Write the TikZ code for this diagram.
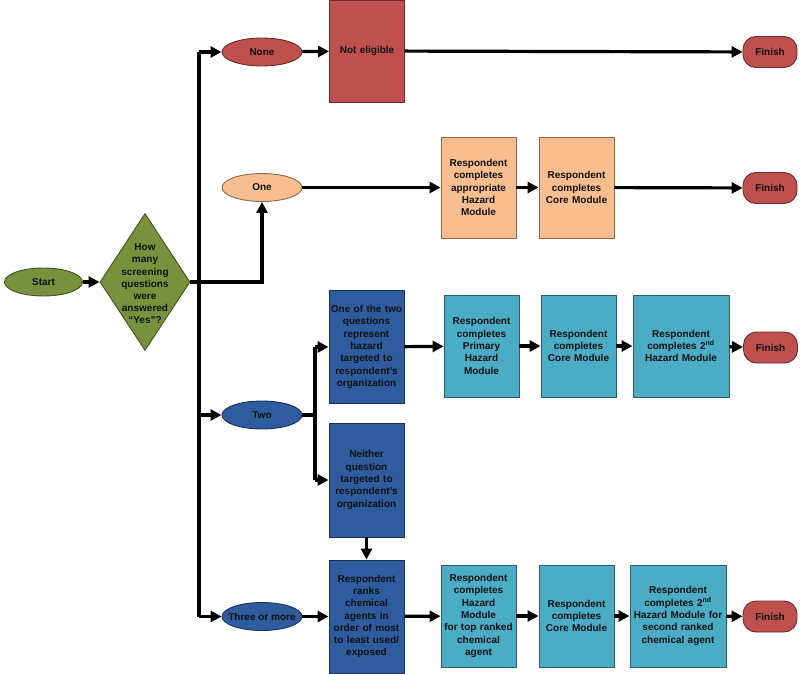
\documentclass[tikz,border=0pt]{standalone}
\usepackage{fontspec}
\setmainfont{Liberation Sans}
\usetikzlibrary{arrows.meta,shapes.geometric}
\definecolor{cgreen}{HTML}{76923C}
\definecolor{cred}{HTML}{C0504D}
\definecolor{corange}{HTML}{F9BE8F}
\definecolor{cdblue}{HTML}{2E5C9E}
\definecolor{clblue}{HTML}{4BACC6}
\definecolor{ctext}{HTML}{111111}
\begin{document}
\begin{tikzpicture}[x=1pt,y=-1pt,
  base/.style={draw=#1!55!black, fill=#1, line width=0.9pt, inner sep=0pt, font=\fontsize{10}{12.3}\selectfont\bfseries, text=ctext, align=center},
  oval/.style={base=#1, ellipse, minimum width=80pt, minimum height=28pt},
  box/.style={base=#1, rectangle, minimum width=75pt, minimum height=102pt, text width=75pt},
  finish/.style={base=cred, rectangle, rounded corners=13pt, minimum width=54pt, minimum height=31pt},
  arr/.style={line width=3.2pt, -{Triangle[length=11pt,width=11pt]}},
  ln/.style={line width=3.2pt}]
\useasboundingbox (0,0) rectangle (800,674);

% start and decision
\node[oval=cgreen, minimum width=78pt] (start) at (43.5,282) {Start};
\node[base=cgreen, diamond, minimum width=90pt, minimum height=137pt] (dia) at (145,282) {};
\node[font=\fontsize{10}{12.2}\selectfont\bfseries, text=ctext, align=center] (diatext) at (145,284) {How\\many\\screening\\questions\\were\\answered\\“Yes”?};

% ovals
\node[oval=cred] (none) at (262,52) {None};
\node[oval=corange] (one) at (262,187.5) {One};
\node[oval=cdblue] (two) at (262,415) {Two};
\node[oval=cdblue] (three) at (262,616.5) {\makebox[0pt]{Three or more}};

% row 1
\node[box=cred, minimum height=102pt] (ne) at (367,51) {Not eligible};
\node[finish] (f1) at (770,52) {Finish};

% row 2
\node[box=corange, minimum height=101pt] (o1) at (478.5,187.5) {Respondent\\completes\\appropriate\\Hazard\\Module};
\node[box=corange, minimum height=101pt] (o2) at (576.5,187.5) {Respondent\\completes\\Core Module};
\node[finish] (f2) at (770,188) {Finish};

% row 3
\node[box=cdblue, minimum height=113pt] (a) at (366.5,347) {One of the two\\questions\\represent\\hazard\\targeted to\\respondent’s\\organization};
\node[box=clblue] (l1) at (481.5,346) {Respondent\\completes\\Primary\\Hazard\\Module};
\node[box=clblue] (l2) at (578.5,346) {Respondent\\completes\\Core Module};
\node[box=clblue, minimum width=96pt, text width=96pt] (l3) at (681,346) {Respondent\\completes 2\textsuperscript{nd}\\Hazard Module};
\node[finish] (f3) at (770.5,347.5) {Finish};

% row 4
\node[box=cdblue, minimum height=114pt] (b) at (366.5,480) {Neither\\question\\targeted to\\respondent’s\\organization};
\node[box=cdblue, minimum height=113pt] (c) at (366.5,616.5) {Respondent\\ranks\\chemical\\agents in\\order of most\\to least used/\\exposed};
\node[box=clblue] (m1) at (478.5,616) {Respondent\\completes\\Hazard\\Module\\for top ranked\\chemical\\agent};
\node[box=clblue] (m2) at (576.5,616) {Respondent\\completes\\Core Module};
\node[box=clblue, minimum width=96pt, text width=96pt] (m3) at (678,616) {Respondent\\completes 2\textsuperscript{nd}\\Hazard Module for\\second ranked\\chemical agent};
\node[finish] (f4) at (770,616.5) {Finish};

% trunk
\coordinate (tTop) at (199,52);
\coordinate (tTwo) at (199,415);
\coordinate (tBot) at (199,616.5);
\coordinate (sTop) at (315,347);
\coordinate (sBot) at (315,480);
\coordinate (sMid) at (315,415);

\draw[arr] (start) -- (dia);
\draw[arr] (dia.east) -| (one.south);
\draw[ln] (tTop) -- (tBot);
\draw[arr] (tTop) -- (none);
\draw[arr] (tTwo) -- (two);
\draw[arr] (tBot) -- (three);

\draw[arr] (none) -- (ne);
\draw[arr] (ne) -- (f1);

\draw[arr] (one) -- (o1);
\draw[arr] (o1) -- (o2);
\draw[arr] (o2) -- (f2);

\draw[ln] (two) -- (sMid);
\draw[ln] (sTop) -- (sBot);
\draw[arr] (sTop) -- (a);
\draw[arr] (sBot) -- (b);
\draw[arr] (a) -- (l1);
\draw[arr] (l1) -- (l2);
\draw[arr] (l2) -- (l3);
\draw[arr] (l3) -- (f3);

\draw[arr] (b) -- (c);
\draw[arr] (three) -- (c);
\draw[arr] (c) -- (m1);
\draw[arr] (m1) -- (m2);
\draw[arr] (m2) -- (m3);
\draw[arr] (m3) -- (f4);
\end{tikzpicture}
\end{document}
